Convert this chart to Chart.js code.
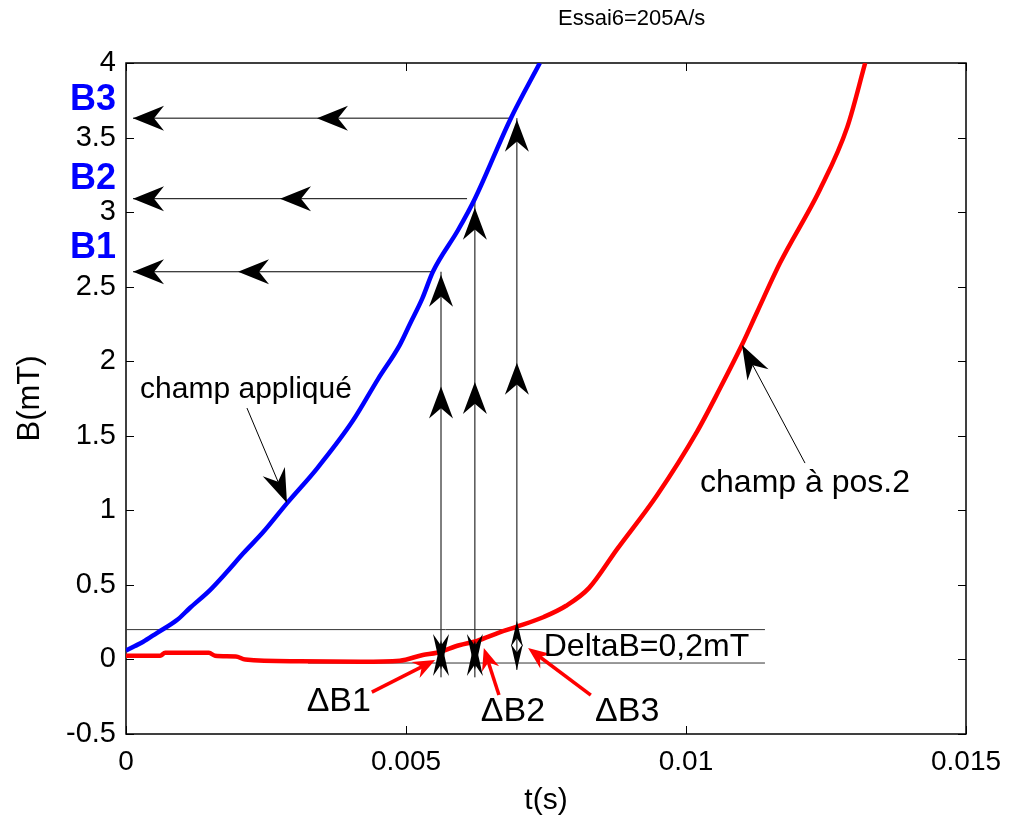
<!DOCTYPE html>
<html>
<head>
<meta charset="utf-8">
<script src="https://cdn.jsdelivr.net/npm/chart.js@4.4.1/dist/chart.umd.min.js"></script>
<style>
  html, body { margin: 0; padding: 0; background: #fff; }
  #wrap { width: 1013px; height: 823px; }
</style>
</head>
<body>
<div id="wrap"><canvas id="essaiChart" width="1013" height="823"></canvas></div>
<script>
// champ appliqué (blue)
const tApplied = [0, 0.00016, 0.0003, 0.00055, 0.00091, 0.00114, 0.0015, 0.0018, 0.00209, 0.00245,
  0.00288, 0.00341, 0.00405, 0.0045, 0.00489, 0.00507, 0.00529, 0.00548, 0.00593, 0.00623, 0.00686, 0.00739];
const bApplied = [0.06, 0.09, 0.117, 0.177, 0.264, 0.345, 0.465, 0.586, 0.71, 0.854,
  1.05, 1.28, 1.6, 1.88, 2.11, 2.25, 2.42, 2.6, 2.88, 3.09, 3.62, 4.0];

// champ à pos.2 (red)
const tPos2 = [0, 0.00061, 0.0007, 0.00148, 0.00159, 0.00196, 0.00213, 0.0031, 0.0042, 0.00489,
  0.0053, 0.00555, 0.00595, 0.00627, 0.00666, 0.00698, 0.00746, 0.00786, 0.00827, 0.00877,
  0.00948, 0.0102, 0.01061, 0.011, 0.01127, 0.01168, 0.01239, 0.01288, 0.0132];
const bPos2 = [0.025, 0.025, 0.045, 0.045, 0.025, 0.02, 0.0, -0.012, -0.015, -0.008,
  0.03, 0.045, 0.095, 0.125, 0.18, 0.22, 0.285, 0.36, 0.48, 0.74,
  1.1, 1.53, 1.82, 2.11, 2.33, 2.66, 3.15, 3.57, 4.0];

// axes
const tTicks = [0, 0.005, 0.01, 0.015];
const tTickLabels = ['0', '0.005', '0.01', '0.015'];
const bTicks = [-0.5, 0, 0.5, 1, 1.5, 2, 2.5, 3, 3.5, 4];
const bTickLabels = ['-0.5', '0', '0.5', '1', '1.5', '2', '2.5', '3', '3.5', '4'];

const chartTitle = 'Essai6=205A/s';

// levels B1, B2, B3 and the times where they are reached
const levelNames = ['B1', 'B2', 'B3'];
const levelB = [2.6, 3.09, 3.63];
const levelT = [0.005625, 0.00623, 0.00698];
const levelBottom = [-0.12, -0.12, -0.07];
const levelLabelB = [2.76, 3.22, 3.75];

// DeltaB band
const bandTop = 0.2;
const bandBottom = -0.024;
const bandStart = [0, 0.00325];
const bandEnd = 0.01141;

const FONT = "'Liberation Sans', Arial, sans-serif";

function seg(ts, bs) {
  return ts.map((t, i) => ({ x: t, y: bs[i] }));
}

function thin(data, color) {
  return { data: data, borderColor: color || '#000', borderWidth: 1, pointRadius: 0, fill: false };
}

const datasets = [
  { label: 'champ appliqué', data: seg(tApplied, bApplied), borderColor: '#0000ff', borderWidth: 4.5,
    pointRadius: 0, cubicInterpolationMode: 'monotone' },
  { label: 'champ à pos.2', data: seg(tPos2, bPos2), borderColor: '#ff0000', borderWidth: 4.5,
    pointRadius: 0, cubicInterpolationMode: 'monotone' },
  thin(seg([bandStart[0], bandEnd], [bandTop, bandTop]), '#333'),
  thin(seg([bandStart[1], bandEnd], [bandBottom, bandBottom]), '#333')
];
levelB.forEach((b, i) => {
  // horizontal arrow from the curve to the axis
  datasets.push(thin(seg([0.000125, levelT[i] - 0.00014], [b, b])));
  // vertical line from the band up to the curve
  datasets.push(thin(seg([levelT[i], levelT[i]], [levelBottom[i], b])));
});
// pointers for the curve labels
datasets.push(thin(seg([0.00216, 0.002875], [1.686, 1.049])));
datasets.push(thin(seg([0.012125, 0.0110], [1.317, 2.109])));

// arrow heads: tip and a point it comes from, in data units
const heads = [
  // vertical arrows, pointing up
  { tip: [levelT[0], 2.58], from: [levelT[0], 0], len: 32, hw: 12 },
  { tip: [levelT[0], 1.83], from: [levelT[0], 0], len: 32, hw: 12 },
  { tip: [levelT[1], 3.03], from: [levelT[1], 0], len: 32, hw: 12 },
  { tip: [levelT[1], 1.86], from: [levelT[1], 0], len: 32, hw: 12 },
  { tip: [levelT[2], 3.62], from: [levelT[2], 0], len: 32, hw: 12 },
  { tip: [levelT[2], 1.99], from: [levelT[2], 0], len: 32, hw: 12 },
  // horizontal arrows, pointing left
  { tip: [0.000125, levelB[0]], from: [0.005, levelB[0]], len: 31, hw: 12.5 },
  { tip: [0.002, levelB[0]], from: [0.005, levelB[0]], len: 31, hw: 12.5 },
  { tip: [0.000125, levelB[1]], from: [0.005, levelB[1]], len: 31, hw: 12.5 },
  { tip: [0.00275, levelB[1]], from: [0.005, levelB[1]], len: 31, hw: 12.5 },
  { tip: [0.000125, levelB[2]], from: [0.005, levelB[2]], len: 31, hw: 12.5 },
  { tip: [0.00341, levelB[2]], from: [0.005, levelB[2]], len: 31, hw: 12.5 },
  // DeltaB marks
  { tip: [levelT[0], -0.07], from: [levelT[0], 1], len: 36, hw: 8 },
  { tip: [levelT[0], 0.13], from: [levelT[0], -1], len: 36, hw: 8 },
  { tip: [levelT[1], -0.07], from: [levelT[1], 1], len: 36, hw: 8 },
  { tip: [levelT[1], 0.13], from: [levelT[1], -1], len: 36, hw: 8 },
  { tip: [levelT[2], 0.26], from: [levelT[2], -1], len: 26, hw: 6 },
  { tip: [levelT[2], -0.07], from: [levelT[2], 1], len: 26, hw: 6 },
  // label pointers
  { tip: [0.002875, 1.049], from: [0.00216, 1.686], len: 34, hw: 12 },
  { tip: [0.0110, 2.109], from: [0.012125, 1.317], len: 34, hw: 12 }
];

// red pointers to the DeltaB marks
const redArrows = [
  { from: [0.00439, -0.219], tip: [0.00552, -0.004] },
  { from: [0.00666, -0.239], tip: [0.00639, 0.076] },
  { from: [0.0083, -0.239], tip: [0.00718, 0.076] }
];

const notes = [
  { text: 'champ appliqué', t: 0.002143, b: 1.807, size: 30, align: 'center' },
  { text: 'champ à pos.2', t: 0.012125, b: 1.183, size: 32, align: 'center' },
  { text: 'DeltaB=0,2mT', t: 0.00746, b: 0.083, size: 32, align: 'left' },
  { text: 'ΔB1', t: 0.0038, b: -0.286, size: 34, align: 'center' },
  { text: 'ΔB2', t: 0.00691, b: -0.353, size: 34, align: 'center' },
  { text: 'ΔB3', t: 0.00895, b: -0.353, size: 34, align: 'center' }
];

function drawHead(ctx, tx, ty, fx, fy, len, hw, color) {
  const d = Math.hypot(tx - fx, ty - fy);
  const ux = (tx - fx) / d, uy = (ty - fy) / d;
  const nx = -uy, ny = ux;
  ctx.fillStyle = color;
  ctx.beginPath();
  ctx.moveTo(tx, ty);
  ctx.lineTo(tx - ux * len + nx * hw, ty - uy * len + ny * hw);
  ctx.lineTo(tx - ux * len * 0.68, ty - uy * len * 0.68);
  ctx.lineTo(tx - ux * len - nx * hw, ty - uy * len - ny * hw);
  ctx.closePath();
  ctx.fill();
}

const overlay = {
  id: 'overlay',
  beforeDatasetsDraw(chart) {
    const { ctx, chartArea: a, scales: { x, y } } = chart;
    ctx.save();
    ctx.strokeStyle = '#000';
    ctx.lineWidth = 1;
    ctx.beginPath();
    x.ticks.forEach(tk => {
      const px = Math.round(x.getPixelForValue(tk.value)) + 0.5;
      ctx.moveTo(px, a.bottom); ctx.lineTo(px, a.bottom - 8);
      ctx.moveTo(px, a.top); ctx.lineTo(px, a.top + 8);
    });
    y.ticks.forEach(tk => {
      const py = Math.round(y.getPixelForValue(tk.value)) + 0.5;
      ctx.moveTo(a.left, py); ctx.lineTo(a.left + 8, py);
      ctx.moveTo(a.right, py); ctx.lineTo(a.right - 8, py);
    });
    ctx.stroke();
    ctx.lineWidth = 1.5;
    ctx.strokeRect(a.left, a.top, a.right - a.left, a.bottom - a.top);
    ctx.restore();
  },
  afterDatasetsDraw(chart) {
    const { ctx, chartArea: a, scales: { x, y } } = chart;
    ctx.save();
    heads.forEach(h => {
      drawHead(ctx, x.getPixelForValue(h.tip[0]), y.getPixelForValue(h.tip[1]),
        x.getPixelForValue(h.from[0]), y.getPixelForValue(h.from[1]), h.len, h.hw, '#000');
    });
    redArrows.forEach(r => {
      const fx = x.getPixelForValue(r.from[0]), fy = y.getPixelForValue(r.from[1]);
      const tx = x.getPixelForValue(r.tip[0]), ty = y.getPixelForValue(r.tip[1]);
      const d = Math.hypot(tx - fx, ty - fy);
      ctx.strokeStyle = '#ff0000';
      ctx.lineWidth = 3.5;
      ctx.beginPath();
      ctx.moveTo(fx, fy);
      ctx.lineTo(tx - (tx - fx) / d * 14, ty - (ty - fy) / d * 14);
      ctx.stroke();
      drawHead(ctx, tx, ty, fx, fy, 22, 9, '#ff0000');
    });
    ctx.fillStyle = '#000';
    ctx.textBaseline = 'middle';
    notes.forEach(n => {
      ctx.font = n.size + 'px ' + FONT;
      ctx.textAlign = n.align;
      ctx.fillText(n.text, x.getPixelForValue(n.t), y.getPixelForValue(n.b));
    });
    // title, sitting right of the axes centre as in the original
    ctx.font = '22px ' + FONT;
    ctx.textAlign = 'center';
    ctx.fillText(chartTitle, x.getPixelForValue(0.00903), 19);
    ctx.fillStyle = '#0000ff';
    ctx.font = 'bold 36px ' + FONT;
    levelNames.forEach((name, i) => {
      ctx.fillText(name, a.left - 33, y.getPixelForValue(levelLabelB[i]));
    });
    ctx.restore();
  }
};

new Chart(document.getElementById('essaiChart'), {
  type: 'line',
  data: { datasets: datasets },
  options: {
    responsive: false,
    animation: false,
    layout: { padding: { left: 0, right: 47, top: 63, bottom: 0 } },
    plugins: {
      legend: { display: false },
      tooltip: { enabled: false },
      title: { display: false }
    },
    scales: {
      x: {
        type: 'linear',
        min: 0,
        max: 0.015,
        afterBuildTicks: s => { s.ticks = tTicks.map(v => ({ value: v })); },
        afterFit: s => { s.height = 89; },
        grid: { display: false, drawTicks: false },
        border: { display: false },
        ticks: {
          color: '#000',
          padding: 11,
          maxRotation: 0,
          font: { family: FONT, size: 28 },
          callback: (v, i) => tTickLabels[i]
        },
        title: {
          display: true,
          text: 't(s)',
          color: '#000',
          font: { family: FONT, size: 30 },
          padding: { top: 0, bottom: 4 }
        }
      },
      y: {
        type: 'linear',
        min: -0.5,
        max: 4,
        afterBuildTicks: s => { s.ticks = bTicks.map(v => ({ value: v })); },
        afterFit: s => { s.width = 126; },
        grid: { display: false, drawTicks: false },
        border: { display: false },
        ticks: {
          color: '#000',
          padding: 10,
          font: { family: FONT, size: 29 },
          callback: (v, i) => bTickLabels[i]
        },
        title: {
          display: true,
          text: 'B(mT)',
          color: '#000',
          font: { family: FONT, size: 31 },
          padding: { top: 12, bottom: 0 }
        }
      }
    }
  },
  plugins: [overlay]
});
</script>
</body>
</html>
